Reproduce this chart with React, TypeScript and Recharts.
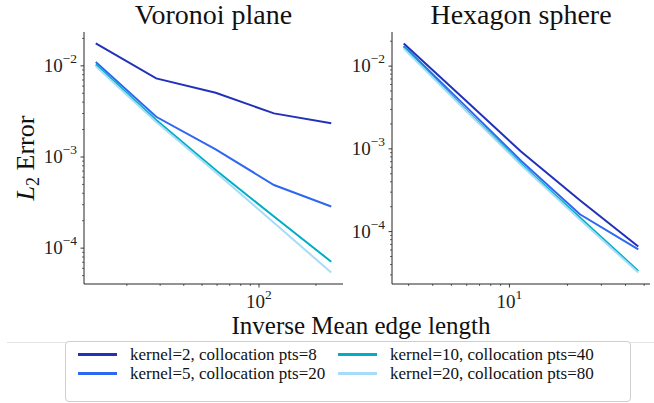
import React from "react";
import { LineChart, Line, XAxis, YAxis } from "recharts";

// inverse mean edge length per mesh level
const planeX = [13.7, 28.6, 59, 120, 241];
const sphereX = [2.83, 5.69, 11.48, 23.2, 46.6];

// L2 error, Voronoi plane
const planeK2 = [0.0176, 0.00728, 0.00506, 0.00301, 0.00234];
const planeK5 = [0.011, 0.00276, 0.00121, 0.000493, 0.000286];
const planeK10 = [0.01035, 0.00255, 0.00072, 0.000222, 0.000071];
const planeK20 = [0.0099, 0.00242, 0.00068, 0.00019, 0.000054];

// L2 error, hexagon sphere
const sphereK2 = [0.0188, 0.0042, 0.00093, 0.00024, 0.000066];
const sphereK5 = [0.0175, 0.0036, 0.00072, 0.000162, 0.000061];
const sphereK10 = [0.017, 0.0033, 0.00066, 0.000148, 0.0000335];
const sphereK20 = [0.0163, 0.0032, 0.00064, 0.00014, 0.000032];

const seriesKeys = ["k2", "k5", "k10", "k20"];
const seriesLabels = [
  "kernel=2, collocation pts=8",
  "kernel=5, collocation pts=20",
  "kernel=10, collocation pts=40",
  "kernel=20, collocation pts=80",
];
const seriesColors = ["#2232b8", "#2f66f2", "#00aec4", "#a6dcfa"];

const AXIS = "#262626";
const SERIF = "Liberation Serif";
const serif = { fontFamily: SERIF };

function toRows(xs: number[], cols: number[][]) {
  return xs.map((x, i) => {
    const row: Record<string, number> = { x };
    seriesKeys.forEach((k, j) => (row[k] = cols[j][i]));
    return row;
  });
}

// matplotlib-style 5% margin, in log space
function logPad(vals: number[]): [number, number] {
  const lo = Math.log10(Math.min(...vals));
  const hi = Math.log10(Math.max(...vals));
  const m = (hi - lo) * 0.05;
  return [10 ** (lo - m), 10 ** (hi + m)];
}

function logTicks([lo, hi]: [number, number]) {
  const out: number[] = [];
  for (let d = Math.floor(Math.log10(lo)); d <= Math.ceil(Math.log10(hi)); d++) {
    for (let m = 1; m <= 9; m++) {
      const v = Number((m * 10 ** d).toPrecision(6));
      if (v >= lo && v <= hi) out.push(v);
    }
  }
  return out;
}

const isMajor = (v: number) => {
  const e = Math.log10(v);
  return Math.abs(e - Math.round(e)) < 1e-9;
};
const expText = (v: number) => {
  const e = Math.round(Math.log10(v));
  return e < 0 ? `\u2212${-e}` : `${e}`;
};

function YTick(props: any) {
  const { x, y, payload } = props;
  const v = payload.value;
  const major = isMajor(v);
  return (
    <g>
      <line x1={x} x2={x - (major ? 3.5 : 2)} y1={y} y2={y} stroke={AXIS} strokeWidth={major ? 0.9 : 0.7} />
      {major && (
        <text x={x - 7} y={y + 6} textAnchor="end" style={serif} fontSize={19} fill="#222">
          10
          <tspan dy={-9} fontSize={13.5}>
            {expText(v)}
          </tspan>
        </text>
      )}
    </g>
  );
}

function XTick(props: any) {
  const { x, y, payload } = props;
  const v = payload.value;
  const major = isMajor(v);
  return (
    <g>
      <line x1={x} x2={x} y1={y} y2={y + (major ? 3.5 : 2)} stroke={AXIS} strokeWidth={major ? 0.9 : 0.7} />
      {major && (
        <text x={x} y={y + 24} textAnchor="middle" style={serif} fontSize={19} fill="#222">
          10
          <tspan dy={-9} fontSize={13.5}>
            {expText(v)}
          </tspan>
        </text>
      )}
    </g>
  );
}

function Panel({
  xs,
  cols,
  width,
  yAxisWidth,
  right,
}: {
  xs: number[];
  cols: number[][];
  width: number;
  yAxisWidth: number;
  right: number;
}) {
  const data = toRows(xs, cols);
  const xDom = logPad(xs);
  const yDom = logPad(cols.flat());
  return (
    <LineChart width={width} height={320} data={data} margin={{ top: 32, right, bottom: 6, left: 0 }}>
      <XAxis
        dataKey="x"
        type="number"
        scale="log"
        domain={xDom}
        allowDataOverflow
        ticks={logTicks(xDom)}
        interval={0}
        tick={<XTick />}
        tickLine={false}
        tickSize={0}
        tickMargin={0}
        height={30}
        axisLine={{ stroke: AXIS, strokeWidth: 1 }}
      />
      <YAxis
        type="number"
        scale="log"
        domain={yDom}
        allowDataOverflow
        ticks={logTicks(yDom)}
        interval={0}
        tick={<YTick />}
        tickLine={false}
        tickSize={0}
        tickMargin={0}
        width={yAxisWidth}
        axisLine={{ stroke: AXIS, strokeWidth: 1 }}
      />
      {/* closing spines of the frame */}
      <XAxis xAxisId="top" orientation="top" type="number" domain={[0, 1]} height={0} tick={false} tickLine={false} axisLine={{ stroke: AXIS, strokeWidth: 1 }} />
      <YAxis yAxisId="right" orientation="right" type="number" domain={[0, 1]} width={0} tick={false} tickLine={false} axisLine={{ stroke: AXIS, strokeWidth: 1 }} />
      {seriesKeys.map((k, i) => (
        <Line
          key={k}
          dataKey={k}
          type="linear"
          stroke={seriesColors[i]}
          strokeWidth={2}
          dot={false}
          isAnimationActive={false}
        />
      ))}
    </LineChart>
  );
}

export default function App() {
  return (
    <div
      style={{
        position: "absolute",
        left: 0,
        top: 0,
        width: 654,
        height: 403,
        background: "#fff",
        overflow: "hidden",
        fontFamily: SERIF,
      }}
    >
      <div style={{ position: "absolute", left: 0, top: 0 }}>
        <Panel xs={planeX} cols={[planeK2, planeK5, planeK10, planeK20]} width={350} yAxisWidth={84} right={7} />
      </div>
      <div style={{ position: "absolute", left: 340, top: 0 }}>
        <Panel xs={sphereX} cols={[sphereK2, sphereK5, sphereK10, sphereK20]} width={314} yAxisWidth={52} right={4} />
      </div>

      <svg width={654} height={403} style={{ position: "absolute", left: 0, top: 0, pointerEvents: "none" }}>
        <text x={213.5} y={24} textAnchor="middle" style={serif} fontSize={28} fill="#111">
          Voronoi plane
        </text>
        <text x={521} y={24} textAnchor="middle" style={serif} fontSize={28} fill="#111">
          Hexagon sphere
        </text>
        <text x={361} y={334} textAnchor="middle" style={serif} fontSize={25} fill="#111">
          Inverse Mean edge length
        </text>
        <text transform="translate(34,158) rotate(-90)" textAnchor="middle" style={serif} fontSize={26} fill="#111">
          <tspan fontStyle="italic">L</tspan>
          <tspan fontSize={18} dy={5}>
            2
          </tspan>
          <tspan dy={-5}> Error</tspan>
        </text>
      </svg>

      <div style={{ position: "absolute", left: 7, top: 342, width: 647, height: 1, background: "#e3e3e3" }} />
      <div
        style={{
          position: "absolute",
          left: 65,
          top: 341,
          width: 564,
          height: 59,
          border: "1px solid #cfcfcf",
          borderRadius: 4,
          background: "#fff",
        }}
      >
        {seriesLabels.map((label, i) => {
          const col = Math.floor(i / 2);
          const row = i % 2;
          return (
            <div
              key={label}
              style={{
                position: "absolute",
                left: col === 0 ? 12 : 272,
                top: 4 + row * 19,
                height: 17,
                lineHeight: "17px",
                display: "flex",
                alignItems: "center",
                whiteSpace: "nowrap",
                fontFamily: SERIF,
                fontSize: 17,
                color: "#111",
              }}
            >
              <span style={{ display: "inline-block", width: 39, height: 3, background: seriesColors[i], marginRight: 13 }} />
              {label}
            </div>
          );
        })}
      </div>
    </div>
  );
}
